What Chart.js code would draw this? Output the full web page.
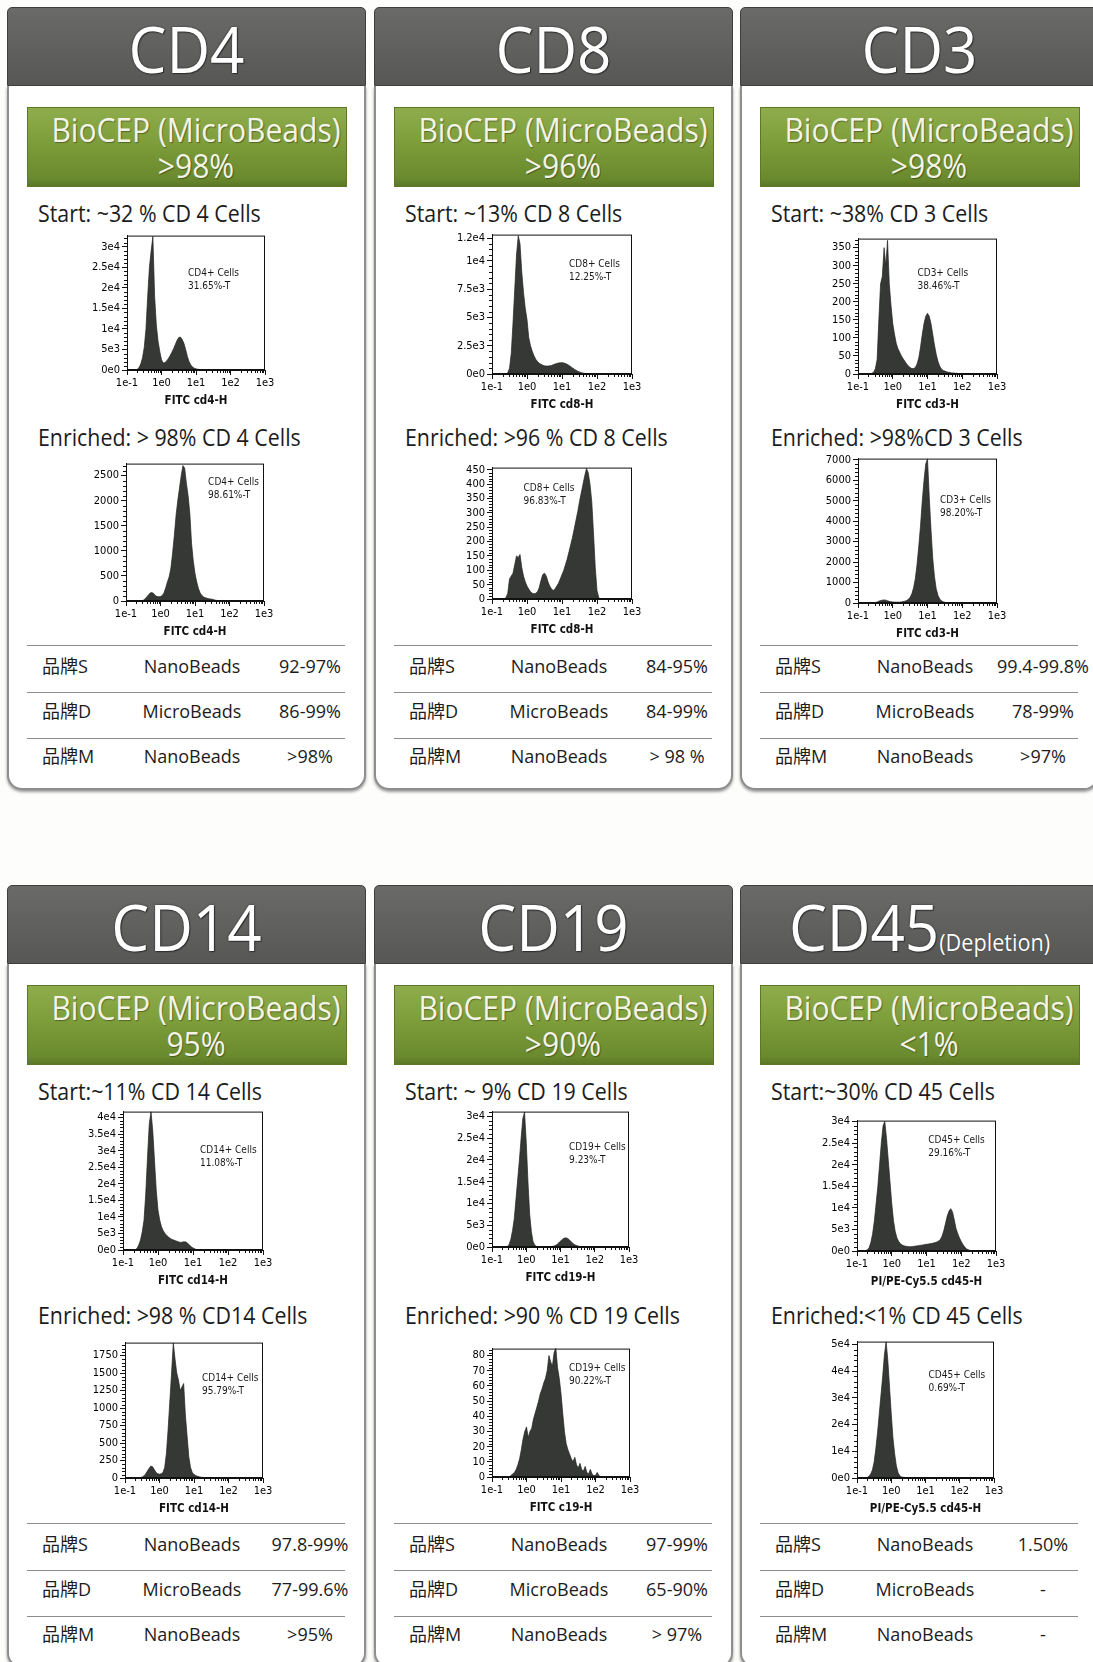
<!DOCTYPE html>
<html>
<head>
<meta charset="utf-8">
<script src="https://cdn.jsdelivr.net/npm/chart.js@4.4.1/dist/chart.umd.min.js"></script>
<style>
  * { box-sizing: border-box; }
  html, body { margin: 0; padding: 0; }
  body {
    width: 1093px; height: 1662px; overflow: hidden; position: relative;
    background: #fdfdfc; color: #1c1c1c;
    font-family: "Open Sans", "Noto Sans CJK SC", sans-serif;
  }
  .card { position: absolute; width: 359px; height: 783px; }
  .head {
    position: absolute; left: 0; top: 0; width: 359px; height: 79px;
    background: linear-gradient(#6a6b68, #575855);
    border: 1px solid #3e3f3d; border-radius: 5px 5px 0 0;
  }
  .title {
    position: absolute; left: 0; right: 0; top: -3px; text-align: center;
    font-size: 64px; line-height: 88px; color: #fff; white-space: nowrap;
    text-shadow: 0 0 2px #222, 1px 1px 1px #333;
    transform: scaleX(0.94);
  }
  .title .sub { font-size: 23px; line-height: 22px; text-shadow: 0 0 1px #222; }
  .body {
    position: absolute; left: 0; top: 79px; width: 359px; height: 704px;
    background: #fff; border: 2px solid #8e8e8e; border-top: none;
    border-radius: 0 0 15px 15px; box-shadow: 0 2px 3px rgba(0,0,0,.4);
  }
  .banner {
    position: absolute; left: 20px; top: 100px; width: 320px; height: 80px;
    background: linear-gradient(#8fad4c 0%, #7d9c3a 45%, #6a8a2e 90%, #5b7826 100%);
    border: 1px solid #5c7726; color: #f4f4e6;
  }
  .bl {
    position: absolute; left: 0; right: 0; text-align: center;
    font-size: 33px; line-height: 40px; white-space: nowrap;
    text-shadow: 1px 1px 1px rgba(0,0,0,.35);
    transform: translateX(9px) scaleX(0.91);
  }
  .line {
    position: absolute; left: 31px; font-size: 24px; line-height: 30px; white-space: nowrap;
    transform: scaleX(0.89); transform-origin: 0 0;
  }
  .rule { position: absolute; left: 20px; width: 318px; border-top: 1px solid #8c8c8c; }
  .cell { position: absolute; font-size: 18px; line-height: 24px; white-space: nowrap; }
  .c1 { left: 35px; }
  .c2 { left: 105px; width: 160px; text-align: center; }
  .c3 { left: 243px; width: 120px; text-align: center; }
  canvas { position: absolute; z-index: 3; }
</style>
</head>
<body>
<script>
// card texts
const cardTitles = ["CD4", "CD8", "CD3", "CD14", "CD19", "CD45"];
const cardSubtitles = ["", "", "", "", "", "(Depletion)"];
const bannerValues = [">98%", ">96%", ">98%", "95%", ">90%", "<1%"];
const startTexts = [
  "Start: ~32 % CD 4 Cells", "Start: ~13% CD 8 Cells", "Start: ~38% CD 3 Cells",
  "Start:~11% CD 14 Cells", "Start: ~ 9% CD 19 Cells", "Start:~30% CD 45 Cells"
];
const enrichedTexts = [
  "Enriched: > 98% CD 4 Cells", "Enriched: >96 % CD 8 Cells", "Enriched: >98%CD 3 Cells",
  "Enriched: >98 % CD14 Cells", "Enriched: >90 % CD 19 Cells", "Enriched:<1% CD 45 Cells"
];
const brandNames = ["品牌S", "品牌D", "品牌M"];
const beadTypes = ["NanoBeads", "MicroBeads", "NanoBeads"];
const brandPurity = [
  ["92-97%", "86-99%", ">98%"],
  ["84-95%", "84-99%", "> 98 %"],
  ["99.4-99.8%", "78-99%", ">97%"],
  ["97.8-99%", "77-99.6%", ">95%"],
  ["97-99%", "65-90%", "> 97%"],
  ["1.50%", "-", "-"]
];

// histogram bins, log10 of fluorescence
const logBins = [
  -1.00, -0.95, -0.90, -0.85, -0.80, -0.75, -0.70, -0.65, -0.60, -0.55,
  -0.50, -0.45, -0.40, -0.35, -0.30, -0.25, -0.20, -0.15, -0.10, -0.05,
  0.00, 0.05, 0.10, 0.15, 0.20, 0.25, 0.30, 0.35, 0.40, 0.45,
  0.50, 0.55, 0.60, 0.65, 0.70, 0.75, 0.80, 0.85, 0.90, 0.95,
  1.00, 1.05, 1.10, 1.15, 1.20, 1.25, 1.30, 1.35, 1.40, 1.45,
  1.50, 1.55, 1.60, 1.65, 1.70, 1.75, 1.80, 1.85, 1.90, 1.95,
  2.00, 2.05, 2.10, 2.15, 2.20, 2.25, 2.30, 2.35, 2.40, 2.45,
  2.50, 2.55, 2.60, 2.65, 2.70, 2.75, 2.80, 2.85, 2.90, 2.95,
  3.00
];
const xTickValues = [-1, 0, 1, 2, 3];
const xTickLabels = ["1e-1", "1e0", "1e1", "1e2", "1e3"];

const cd4Start = [
  0, 0, 0, 0, 0, 0, 200, 600, 1500, 3000,
  5500, 10000, 18000, 25000, 29000, 32500, 18000, 11000, 7000, 4500,
  2500, 1700, 1800, 2200, 2800, 3500, 4300, 5200, 6200, 7200,
  7900, 8000, 7400, 6500, 5000, 3300, 2000, 1200, 700, 450,
  280, 180, 120, 80, 50, 30, 20, 10, 0, 0,
  0, 0, 0, 0, 0, 0, 0, 0, 0, 0,
  0, 0, 0, 0, 0, 0, 0, 0, 0, 0,
  0, 0, 0, 0, 0, 0, 0, 0, 0, 0,
  0
];
const cd4Enriched = [
  0, 0, 0, 0, 0, 0, 0, 0, 0, 5,
  15, 40, 80, 120, 160, 170, 150, 110, 90, 85,
  90, 110, 160, 260, 380, 480, 650, 950, 1300, 1700,
  2000, 2250, 2500, 2700, 2650, 2350, 2100, 1750, 1150, 800,
  550, 380, 250, 160, 110, 80, 65, 55, 45, 40,
  35, 25, 15, 10, 5, 0, 0, 0, 0, 0,
  0, 0, 0, 0, 0, 0, 0, 0, 0, 0,
  0, 0, 0, 0, 0, 0, 0, 0, 0, 0,
  0
];
const cd8Start = [
  0, 0, 0, 0, 0, 0, 0, 0, 0, 100,
  500, 1800, 4500, 7500, 10500, 12200, 11500, 9000, 7200, 5800,
  4800, 3200, 2500, 2000, 1600, 1300, 1100, 950, 850, 780,
  720, 700, 700, 720, 760, 820, 880, 930, 970, 990,
  1000, 980, 920, 850, 760, 650, 540, 430, 330, 250,
  180, 120, 80, 50, 30, 15, 5, 0, 0, 0,
  0, 0, 0, 0, 0, 0, 0, 0, 0, 0,
  0, 0, 0, 0, 0, 0, 0, 0, 0, 0,
  0
];
const cd8Enriched = [
  0, 0, 0, 0, 0, 0, 0, 0, 5, 20,
  70, 80, 90, 120, 150, 145, 155, 110, 80, 60,
  45, 35, 25, 20, 18, 20, 25, 40, 65, 85,
  90, 80, 60, 45, 35, 30, 35, 45, 55, 70,
  85, 100, 120, 140, 165, 190, 215, 245, 275, 305,
  340, 370, 400, 430, 455, 440, 400, 340, 230, 110,
  30, 5, 0, 0, 0, 0, 0, 0, 0, 0,
  0, 0, 0, 0, 0, 0, 0, 0, 0, 0,
  0
];
const cd3Start = [
  0, 0, 0, 0, 0, 0, 0, 0, 2, 5,
  15, 40, 150, 250, 270, 350, 300, 370, 250, 190,
  140, 110, 85, 70, 60, 50, 42, 35, 28, 22,
  18, 15, 15, 18, 28, 45, 75, 110, 140, 160,
  168, 160, 140, 110, 80, 55, 35, 22, 14, 10,
  8, 6, 5, 4, 3, 3, 2, 2, 1, 1,
  1, 1, 1, 0, 0, 0, 0, 0, 0, 0,
  0, 0, 0, 0, 0, 0, 0, 0, 0, 0,
  0
];
const cd3Enriched = [
  0, 0, 0, 0, 0, 0, 0, 0, 0, 0,
  20, 50, 90, 120, 140, 150, 140, 110, 80, 60,
  50, 45, 40, 40, 45, 55, 70, 90, 120, 180,
  280, 450, 750, 1200, 1900, 2800, 3800, 5000, 6000, 6800,
  7050, 5200, 3600, 2200, 1300, 700, 380, 200, 110, 60,
  35, 20, 10, 5, 0, 0, 0, 0, 0, 0,
  0, 0, 0, 0, 0, 0, 0, 0, 0, 0,
  0, 0, 0, 0, 0, 0, 0, 0, 0, 0,
  0
];
const cd14Start = [
  0, 0, 0, 0, 0, 0, 0, 0, 500, 1500,
  3000, 5500, 9000, 17000, 28000, 38000, 41800, 36000, 27000, 18000,
  12000, 9000, 7000, 5800, 5000, 4400, 3900, 3500, 3200, 3000,
  2800, 2600, 2400, 2300, 2400, 2500, 2400, 2000, 1500, 1000,
  600, 350, 150, 50, 10, 0, 0, 0, 0, 0,
  0, 0, 0, 0, 0, 0, 0, 0, 0, 0,
  0, 0, 0, 0, 0, 0, 0, 0, 0, 0,
  0, 0, 0, 0, 0, 0, 0, 0, 0, 0,
  0
];
const cd14Enriched = [
  0, 0, 0, 0, 0, 0, 0, 0, 0, 5,
  15, 30, 60, 100, 140, 170, 160, 120, 80, 60,
  55, 60, 80, 150, 350, 700, 1100, 1500, 1930, 1700,
  1500, 1400, 1250, 1300, 1350, 900, 600, 300, 150, 80,
  50, 35, 25, 18, 12, 8, 5, 0, 0, 0,
  0, 0, 0, 0, 0, 0, 0, 0, 0, 0,
  0, 0, 0, 0, 0, 0, 0, 0, 0, 0,
  0, 0, 0, 0, 0, 0, 0, 0, 0, 0,
  0
];
const cd19Start = [
  0, 0, 0, 0, 0, 0, 0, 0, 0, 100,
  600, 1800, 3800, 6500, 11000, 15500, 20000, 25000, 29500, 31000,
  24000, 15000, 7500, 3500, 1200, 400, 150, 80, 60, 50,
  45, 45, 50, 60, 80, 120, 200, 350, 600, 950,
  1350, 1750, 2000, 2100, 2000, 1700, 1300, 900, 600, 400,
  250, 150, 90, 50, 30, 15, 5, 0, 0, 0,
  0, 0, 0, 0, 0, 0, 0, 0, 0, 0,
  0, 0, 0, 0, 0, 0, 0, 0, 0, 0,
  0
];
const cd19Enriched = [
  0, 0, 0, 0, 0, 0, 0, 0, 0, 0,
  0, 1, 2, 3, 5, 8, 12, 18, 25, 30,
  33, 26, 30, 32, 38, 42, 46, 50, 55, 58,
  62, 65, 70, 80, 76, 73, 82, 85, 72, 65,
  55, 42, 30, 22, 18, 15, 12, 10, 13, 8,
  6, 9, 5, 4, 7, 3, 2, 5, 2, 1,
  1, 3, 1, 0, 0, 0, 0, 0, 0, 0,
  0, 0, 0, 0, 0, 0, 0, 0, 0, 0,
  0
];
const cd45Start = [
  0, 0, 0, 0, 0, 100, 300, 800, 2000, 4000,
  7000, 11000, 15000, 20000, 25000, 29000, 30000, 26000, 21000, 16000,
  11000, 7000, 4500, 3000, 2200, 1700, 1400, 1200, 1100, 1050,
  1000, 1000, 1050, 1100, 1150, 1200, 1300, 1350, 1400, 1500,
  1550, 1600, 1700, 1750, 1850, 1950, 2100, 2300, 2700, 3500,
  4800, 6500, 8200, 9300, 9800, 9000, 7200, 5200, 4000, 3000,
  2200, 1500, 900, 500, 300, 150, 80, 30, 10, 0,
  0, 0, 0, 0, 0, 0, 0, 0, 0, 0,
  0
];
const cd45Enriched = [
  0, 0, 0, 0, 0, 0, 200, 700, 1500, 3000,
  6000, 11000, 17000, 24000, 31000, 38000, 46000, 51000, 44000, 34000,
  24000, 15000, 9000, 4500, 2000, 800, 400, 250, 200, 160,
  130, 110, 90, 70, 50, 40, 30, 20, 10, 5,
  0, 0, 0, 0, 0, 0, 0, 0, 0, 0,
  0, 0, 0, 0, 0, 0, 0, 0, 0, 0,
  0, 0, 0, 0, 0, 0, 0, 0, 0, 0,
  0, 0, 0, 0, 0, 0, 0, 0, 0, 0,
  0
];

// y axis ticks
const ticks3e4 = [0, 5000, 10000, 15000, 20000, 25000, 30000];
const ticksCd4Enr = [0, 500, 1000, 1500, 2000, 2500];
const ticksCd8Start = [0, 2500, 5000, 7500, 10000, 12000];
const ticksCd8Enr = [0, 50, 100, 150, 200, 250, 300, 350, 400, 450];
const ticksCd3Start = [0, 50, 100, 150, 200, 250, 300, 350];
const ticksCd3Enr = [0, 1000, 2000, 3000, 4000, 5000, 6000, 7000];
const ticksCd14Start = [0, 5000, 10000, 15000, 20000, 25000, 30000, 35000, 40000];
const ticksCd14Enr = [0, 250, 500, 750, 1000, 1250, 1500, 1750];
const ticksCd19Enr = [0, 10, 20, 30, 40, 50, 60, 70, 80];
const ticksCd45Enr = [0, 10000, 20000, 30000, 40000, 50000];

const cardPos = [[7, 7], [374, 7], [740, 7], [7, 885], [374, 885], [740, 885]];

const charts = [
  { counts: cd4Start, ticks: ticks3e4, max: 32700, sci: true, title: "FITC cd4-H",
    label: ["CD4+ Cells", "31.65%-T"], at: [0.77, 23400], box: [127, 235, 138, 135] },
  { counts: cd4Enriched, ticks: ticksCd4Enr, max: 2740, sci: false, title: "FITC cd4-H",
    label: ["CD4+ Cells", "98.61%-T"], at: [1.38, 2360], box: [126, 463, 138, 138] },
  { counts: cd8Start, ticks: ticksCd8Start, max: 12300, sci: true, title: "FITC cd8-H",
    label: ["CD8+ Cells", "12.25%-T"], at: [1.2, 9640], box: [492, 234, 140, 140] },
  { counts: cd8Enriched, ticks: ticksCd8Enr, max: 458, sci: false, title: "FITC cd8-H",
    label: ["CD8+ Cells", "96.83%-T"], at: [-0.1, 385], box: [492, 467, 140, 132] },
  { counts: cd3Start, ticks: ticksCd3Start, max: 375, sci: false, title: "FITC cd3-H",
    label: ["CD3+ Cells", "38.46%-T"], at: [0.71, 279], box: [858, 238, 139, 136] },
  { counts: cd3Enriched, ticks: ticksCd3Enr, max: 7060, sci: false, title: "FITC cd3-H",
    label: ["CD3+ Cells", "98.20%-T"], at: [1.36, 5000], box: [858, 458, 139, 145] },
  { counts: cd14Start, ticks: ticksCd14Start, max: 41800, sci: true, title: "FITC cd14-H",
    label: ["CD14+ Cells", "11.08%-T"], at: [1.2, 30000], box: [123, 1111, 140, 139] },
  { counts: cd14Enriched, ticks: ticksCd14Enr, max: 1935, sci: false, title: "FITC cd14-H",
    label: ["CD14+ Cells", "95.79%-T"], at: [1.23, 1420], box: [125, 1342, 138, 136] },
  { counts: cd19Start, ticks: ticks3e4, max: 31100, sci: true, title: "FITC cd19-H",
    label: ["CD19+ Cells", "9.23%-T"], at: [1.25, 22800], box: [492, 1111, 137, 136] },
  { counts: cd19Enriched, ticks: ticksCd19Enr, max: 84.6, sci: false, title: "FITC c19-H",
    label: ["CD19+ Cells", "90.22%-T"], at: [1.23, 71.5], box: [492, 1348, 138, 129] },
  { counts: cd45Start, ticks: ticks3e4, max: 30200, sci: true, title: "PI/PE-Cy5.5 cd45-H",
    label: ["CD45+ Cells", "29.16%-T"], at: [1.05, 25500], box: [857, 1120, 139, 131] },
  { counts: cd45Enriched, ticks: ticksCd45Enr, max: 51000, sci: true, title: "PI/PE-Cy5.5 cd45-H",
    label: ["CD45+ Cells", "0.69%-T"], at: [1.09, 38400], box: [857, 1341, 137, 137] }
];

const narrow = "'Liberation Sans Narrow', 'Arial Narrow', 'DejaVu Sans Condensed', sans-serif";

function sciLabel(v) {
  if (v === 0) return "0e0";
  const e = Math.floor(Math.log10(v));
  const m = +(v / Math.pow(10, e)).toFixed(2);
  return m + "e" + e;
}

function buildCard(i) {
  const [left, top] = cardPos[i];
  const card = document.createElement("div");
  card.className = "card";
  card.style.left = left + "px";
  card.style.top = top + "px";
  let table = "";
  for (let r = 0; r < 3; r++) {
    table += `<div class="rule" style="top:${638 + r * 46.5}px"></div>
      <div class="cell c1" style="top:${647 + r * 45}px">${brandNames[r]}</div>
      <div class="cell c2" style="top:${647 + r * 45}px">${beadTypes[r]}</div>
      <div class="cell c3" style="top:${647 + r * 45}px">${brandPurity[i][r]}</div>`;
  }
  card.innerHTML = `
    <div class="body"></div>
    <div class="head"><div class="title">${cardTitles[i]}<span class="sub">${cardSubtitles[i]}</span></div></div>
    <div class="banner">
      <div class="bl" style="top:2px">BioCEP (MicroBeads)</div>
      <div class="bl" style="top:38px">${bannerValues[i]}</div>
    </div>
    <div class="line" style="top:191px">${startTexts[i]}</div>
    <div class="line" style="top:415px">${enrichedTexts[i]}</div>
    ${table}`;
  document.body.appendChild(card);
}

function makeHist(spec) {
  const [bl, bt, bw, bh] = spec.box;
  const padL = 46, padT = 8, padR = 16, padB = 38;
  const canvas = document.createElement("canvas");
  canvas.width = bw + padL + padR;
  canvas.height = bh + padT + padB;
  canvas.style.left = (bl - padL) + "px";
  canvas.style.top = (bt - padT) + "px";
  document.body.appendChild(canvas);

  // frame, minor ticks and the gate label
  const extras = {
    id: "extras",
    afterDraw(chart) {
      const { ctx, chartArea: a, scales: { x, y } } = chart;
      ctx.save();
      ctx.strokeStyle = "#111";
      ctx.lineWidth = 1;
      ctx.strokeRect(a.left + 0.5, a.top + 0.5, a.right - a.left - 1, a.bottom - a.top - 1);
      ctx.beginPath();
      for (let d = -1; d < 3; d++) {
        for (let k = 2; k < 10; k++) {
          const px = Math.round(x.getPixelForValue(d + Math.log10(k))) + 0.5;
          ctx.moveTo(px, a.bottom);
          ctx.lineTo(px, a.bottom + 3);
        }
      }
      const step = (spec.ticks[1] - spec.ticks[0]) / 5;
      for (let v = step; v <= spec.max; v += step) {
        if (spec.ticks.some(t => Math.abs(t - v) < step / 10)) continue;
        const py = Math.round(y.getPixelForValue(v)) + 0.5;
        ctx.moveTo(a.left - 3, py);
        ctx.lineTo(a.left, py);
      }
      ctx.stroke();
      ctx.fillStyle = "#1a1a1a";
      ctx.font = "10px " + narrow;
      ctx.textBaseline = "middle";
      const tx = x.getPixelForValue(spec.at[0]);
      const ty = y.getPixelForValue(spec.at[1]);
      ctx.fillText(spec.label[0], tx, ty);
      ctx.fillText(spec.label[1], tx, ty + 13);
      ctx.restore();
    }
  };

  new Chart(canvas, {
    type: "line",
    data: {
      datasets: [{
        data: logBins.map((b, i) => ({ x: b, y: spec.counts[i] })),
        fill: "origin",
        backgroundColor: "#363835",
        borderColor: "#222422",
        borderWidth: 0.7,
        pointRadius: 0,
        tension: 0
      }]
    },
    options: {
      responsive: false,
      animation: false,
      layout: { padding: { left: 0, top: padT, right: padR, bottom: 0 } },
      plugins: { legend: { display: false }, tooltip: { enabled: false } },
      scales: {
        x: {
          type: "linear", min: -1, max: 3,
          afterBuildTicks: s => { s.ticks = xTickValues.map(v => ({ value: v })); },
          afterFit: s => { s.height = padB; },
          ticks: {
            autoSkip: false, maxRotation: 0, padding: 2, color: "#000",
            font: { family: narrow, size: 11 },
            callback: v => xTickLabels[xTickValues.indexOf(v)]
          },
          grid: { drawOnChartArea: false, drawTicks: true, tickLength: 5, color: "#111" },
          border: { color: "#111", width: 1 },
          title: {
            display: true, text: spec.title, color: "#111",
            font: { family: narrow, size: 11.5, weight: "bold" },
            padding: { top: 2, bottom: 0 }
          }
        },
        y: {
          min: 0, max: spec.max,
          afterBuildTicks: s => { s.ticks = spec.ticks.map(v => ({ value: v })); },
          afterFit: s => { s.width = padL; },
          ticks: {
            autoSkip: false, padding: 2, color: "#000",
            font: { family: narrow, size: 11 },
            callback: v => spec.sci ? sciLabel(v) : String(v)
          },
          grid: { drawOnChartArea: false, drawTicks: true, tickLength: 5, color: "#111" },
          border: { color: "#111", width: 1 }
        }
      }
    },
    plugins: [extras]
  });
}

cardTitles.forEach((t, i) => buildCard(i));
charts.forEach(makeHist);
</script>
</body>
</html>
